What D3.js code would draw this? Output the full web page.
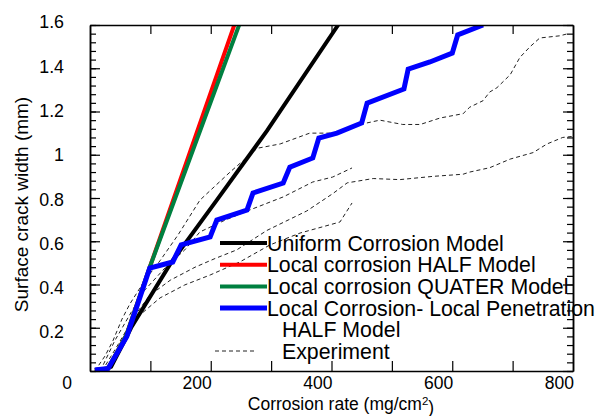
<!DOCTYPE html>
<html>
<head>
<meta charset="utf-8">
<script src="https://cdn.jsdelivr.net/npm/d3@7"></script>
<style>
  html, body { margin: 0; padding: 0; background: #fff; }
  svg text { font-family: "Liberation Sans", Arial, Helvetica, sans-serif; fill: #000; }
</style>
</head>
<body>
<svg id="chart" width="609" height="416"></svg>
<script>
// ---------------- data ----------------
const xTickValues = [100, 200, 300, 400, 500, 600, 700];
const xLabelValues = [200, 400, 600, 800];
const xLabels = ["200", "400", "600", "800"];
const yLabelValues = [0.2, 0.4, 0.6, 0.8, 1.0, 1.2, 1.4, 1.6];
const yLabels = ["0.2", "0.4", "0.6", "0.8", "1", "1.2", "1.4", "1.6"];

const uniform = [[20,0],[35,0.02],[61,0.16],[68,0.20],[134,0.50],[210,0.79],[293,1.11],[411,1.60]];
const localHalf = [[8,0.005],[30,0.012],[60,0.165],[99,0.48],[239,1.60]];
const localQuater = [[8,0.005],[30,0.012],[60,0.165],[99,0.48],[247,1.60]];
const localPenetration = [[8,0.005],[30,0.012],[61,0.16],[99,0.476],[137,0.504],[151,0.583],[199,0.62],[210,0.698],
  [260,0.744],[270,0.823],[320,0.869],[331,0.943],[369,0.985],[379,1.077],[409,1.10],[450,1.147],[459,1.239],
  [520,1.304],[527,1.396],[563,1.429],[600,1.47],[609,1.554],[651,1.60]];

const exp1 = [[8,0],[25,0.07],[38,0.14],[53,0.24],[66,0.31],[91,0.42],[116,0.51],[146,0.63],[182,0.79],[232,0.92],
  [277,1.03],[315,1.05],[364,1.10],[402,1.10],[447,1.14],[480,1.16],[518,1.14],[547,1.14],[580,1.17],[618,1.19],
  [629,1.22],[651,1.25],[662,1.29],[674,1.31],[696,1.37],[712,1.45],[729,1.50],[745,1.54],[778,1.55],[792,1.56]];
const exp2 = [[20,0],[46,0.12],[75,0.26],[99,0.35],[133,0.42],[174,0.48],[207,0.52],[243,0.56],[293,0.65],[359,0.74],
  [402,0.82],[426,0.87],[469,0.89],[513,0.885],[568,0.90],[618,0.91],[629,0.92],[662,0.94],[696,0.98],[734,1.01],
  [757,1.05],[783,1.08],[800,1.085]];
const exp3 = [[17,0],[41,0.14],[70,0.28],[91,0.375],[124,0.476],[157,0.56],[182,0.643],[224,0.698],[265,0.745],
  [320,0.805],[369,0.874],[402,0.897],[434,0.939]];
const exp4 = [[25,0],[50,0.12],[83,0.26],[116,0.338],[157,0.398],[199,0.444],[248,0.504],[298,0.583],[348,0.638],
  [414,0.689],[434,0.777]];

const experiments = [exp1, exp2, exp3, exp4];
const models = [
  { data: uniform, color: "#000000", width: 4 },
  { data: localHalf, color: "#ff0000", width: 4 },
  { data: localQuater, color: "#008040", width: 4 },
  { data: localPenetration, color: "#0000ff", width: 5 }
];
const legendItems = [
  { label: "Uniform Corrosion Model", color: "#000000", width: 4 },
  { label: "Local corrosion HALF Model", color: "#ff0000", width: 4 },
  { label: "Local corrosion QUATER Model", color: "#008040", width: 4 },
  { label: "Local Corrosion- Local Penetration", color: "#0000ff", width: 5 }
];

// ---------------- layout ----------------
const svg = d3.select("#chart");
const L = 90, R = 573, T = 25, B = 371;
const x = d3.scaleLinear().domain([0, 800]).range([L, R]);
const y = d3.scaleLinear().domain([0, 1.6]).range([B, T]);
const yLab = d3.scaleLinear().domain([0.2, 1.6]).range([332, 22]);

svg.append("defs").append("clipPath").attr("id", "clip")
  .append("rect").attr("x", L).attr("y", T).attr("width", R - L).attr("height", B - T);

const line = d3.line().x(d => x(d[0])).y(d => y(d[1]));
const plot = svg.append("g").attr("clip-path", "url(#clip)");

experiments.forEach(e => {
  plot.append("path").attr("d", line(e)).attr("fill", "none")
    .attr("stroke", "#222").attr("stroke-width", 1).attr("stroke-dasharray", "4,3");
});
models.forEach(m => {
  plot.append("path").attr("d", line(m.data)).attr("fill", "none")
    .attr("stroke", m.color).attr("stroke-width", m.width)
    .attr("stroke-linejoin", "miter").attr("stroke-linecap", "butt");
});

// ---------------- axes ----------------
const yMinor = d3.range(0, 1.6001, 0.04);
const yMajor = d3.range(0, 1.6001, 0.2);

function styleAxis(g) {
  g.select(".domain").attr("stroke", "#000").attr("stroke-width", 1.5);
  g.selectAll(".tick line").attr("stroke", "#000").attr("stroke-width", 1.2);
  g.selectAll(".tick text").remove();
}

svg.append("g").attr("transform", `translate(0,${B})`)
  .call(d3.axisBottom(x).tickValues(xTickValues).tickSizeInner(-10).tickSizeOuter(0).tickFormat(""))
  .call(styleAxis);
svg.append("g").attr("transform", `translate(0,${T})`)
  .call(d3.axisTop(x).tickValues(xTickValues).tickSizeInner(-9).tickSizeOuter(0).tickFormat(""))
  .call(styleAxis);
svg.append("g").attr("transform", `translate(${L},0)`)
  .call(d3.axisLeft(y).tickValues(yMinor).tickSizeInner(-6).tickSizeOuter(0).tickFormat(""))
  .call(styleAxis);
svg.append("g").attr("transform", `translate(${L},0)`)
  .call(d3.axisLeft(y).tickValues(yMajor).tickSizeInner(-10).tickSizeOuter(0).tickFormat(""))
  .call(styleAxis);
svg.append("g").attr("transform", `translate(${R},0)`)
  .call(d3.axisRight(y).tickValues(yMinor).tickSizeInner(-6).tickSizeOuter(0).tickFormat(""))
  .call(styleAxis);
svg.append("g").attr("transform", `translate(${R},0)`)
  .call(d3.axisRight(y).tickValues(yMajor).tickSizeInner(-10).tickSizeOuter(0).tickFormat(""))
  .call(styleAxis);

// tick labels
svg.selectAll(".xlab").data(xLabelValues).enter().append("text")
  .attr("x", d => x(d) + 1).attr("y", 389).attr("text-anchor", "end")
  .style("font-size", "17.5px").text((d, i) => xLabels[i]);
svg.append("text").attr("x", 72).attr("y", 389).attr("text-anchor", "end")
  .style("font-size", "17.5px").text("0");
svg.selectAll(".ylab").data(yLabelValues).enter().append("text")
  .attr("x", 64).attr("y", d => yLab(d)).attr("dy", "0.36em").attr("text-anchor", "end")
  .style("font-size", "17.8px").text((d, i) => yLabels[i]);

// axis titles
const xt = svg.append("text").attr("x", 341).attr("y", 410).attr("text-anchor", "middle")
  .style("font-size", "17.5px");
xt.append("tspan").text("Corrosion rate (mg/cm");
xt.append("tspan").attr("dy", "-0.45em").style("font-size", "11.5px").text("2");
xt.append("tspan").attr("dy", "0.45em").text(")");

svg.append("text").attr("transform", "translate(28,204.5) rotate(-90)")
  .attr("text-anchor", "middle").style("font-size", "19px").text("Surface crack width (mm)");

// ---------------- legend ----------------
const legY = d3.scaleLinear().domain([0, 1]).range([250.5, 272.2]);
legendItems.forEach((it, i) => {
  svg.append("line").attr("x1", 220).attr("x2", 267)
    .attr("y1", legY(i) - 7.5).attr("y2", legY(i) - 7.5)
    .attr("stroke", it.color).attr("stroke-width", it.width);
  svg.append("text").attr("x", 267).attr("y", legY(i)).style("font-size", "21.3px").text(it.label);
});
svg.append("text").attr("x", 282).attr("y", legY(4)).style("font-size", "21.3px").text("HALF Model");
svg.append("line").attr("x1", 215).attr("x2", 255).attr("y1", legY(5) - 8).attr("y2", legY(5) - 8)
  .attr("stroke", "#222").attr("stroke-width", 1).attr("stroke-dasharray", "4,3");
svg.append("text").attr("x", 282).attr("y", legY(5)).style("font-size", "21.3px").text("Experiment");
</script>
</body>
</html>
